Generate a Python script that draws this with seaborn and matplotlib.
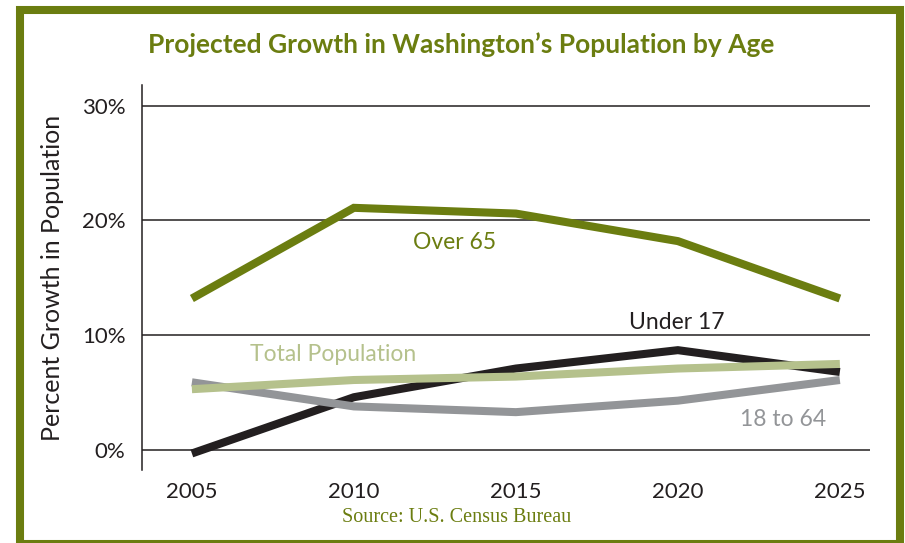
import matplotlib
matplotlib.use("Agg")
import matplotlib.pyplot as plt
import seaborn as sns
import pandas as pd
from matplotlib.patches import Rectangle

years = [2005, 2010, 2015, 2020, 2025]
over_65 = [13.2, 21.1, 20.6, 18.2, 13.2]
under_17 = [-0.3, 4.6, 7.1, 8.7, 6.8]
age_18_64 = [5.9, 3.8, 3.3, 4.3, 6.1]
total_pop = [5.3, 6.1, 6.4, 7.1, 7.5]
series_names = ["Over 65", "Under 17", "18 to 64", "Total Population"]
y_ticks = [0, 10, 20, 30]
y_tick_labels = ["0%", "10%", "20%", "30%"]

OLIVE = "#6b7d10"
colors = {"Over 65": OLIVE, "Under 17": "#231f20",
          "18 to 64": "#939598", "Total Population": "#b5c18c"}

rows = []
for name, vals in zip(series_names, [over_65, under_17, age_18_64, total_pop]):
    for yr, v in zip(years, vals):
        rows.append({"Year": yr, "Growth": v, "Series": name})
df = pd.DataFrame(rows)

sns.set_style("white")
plt.rcParams['font.family'] = ['Lato', 'DejaVu Sans']

fig = plt.figure(figsize=(9.05, 5.43), dpi=100)
fig.patches.append(Rectangle((20/905, -1/543), 880/905, 534/543, transform=fig.transFigure,
                             fill=False, edgecolor=OLIVE, linewidth=5.8, zorder=0))
ax = fig.add_axes([142/905, 1-470/543, (870-142)/905, (470-85)/543])

for grid_y in y_ticks:
    ax.axhline(grid_y, color="#231f20", lw=1.1, zorder=1)

sns.lineplot(data=df, x="Year", y="Growth", hue="Series", hue_order=series_names,
             palette=colors, linewidth=5.8, legend=False, ax=ax, zorder=3)
for ln in ax.get_lines():
    ln.set_solid_capstyle("butt")
    ln.set_solid_joinstyle("miter")

ax.set_xlim(2003.46, 2025.93)
ax.set_ylim(-1.74, 31.8)
ax.set_xticks(years)
ax.set_xticklabels([str(y) for y in years], fontsize=16, color="#231f20")
ax.set_yticks(y_ticks)
ax.set_yticklabels(y_tick_labels, fontsize=16, color="#231f20")
ax.tick_params(axis="both", length=0, pad=9)
ax.tick_params(axis="y", pad=12)
for s in ["top", "right", "bottom"]:
    ax.spines[s].set_visible(False)
ax.spines["left"].set_color("#231f20")
ax.spines["left"].set_linewidth(1.1)
ax.set_xlabel("")
ax.set_ylabel("")

fig.text(53/905, 1-278/543, "Percent Growth in Population", fontsize=18, color="#231f20",
         rotation=90, ha="center", va="center")

ax.text(2013.1, 18.1, "Over 65", color=OLIVE, fontsize=16.5, ha="center", va="center")
ax.text(2019.95, 11.1, "Under 17", color="#231f20", fontsize=16.5, ha="center", va="center")
ax.text(2009.35, 8.3, "Total Population", color="#b5c18c", fontsize=16.5, ha="center", va="center")
ax.text(2023.25, 2.7, "18 to 64", color="#939598", fontsize=16.5, ha="center", va="center")

fig.text(461/905, 1-45/543, "Projected Growth in Washington\u2019s Population by Age",
         color=OLIVE, fontsize=19, fontweight="bold", ha="center", va="center")
fig.text(457/905, 1-518/543, "Source: U.S. Census Bureau", color=OLIVE, fontsize=14.5,
         family=["Liberation Serif", "DejaVu Serif"], ha="center", va="center")

fig.savefig("out.png", dpi=100)
